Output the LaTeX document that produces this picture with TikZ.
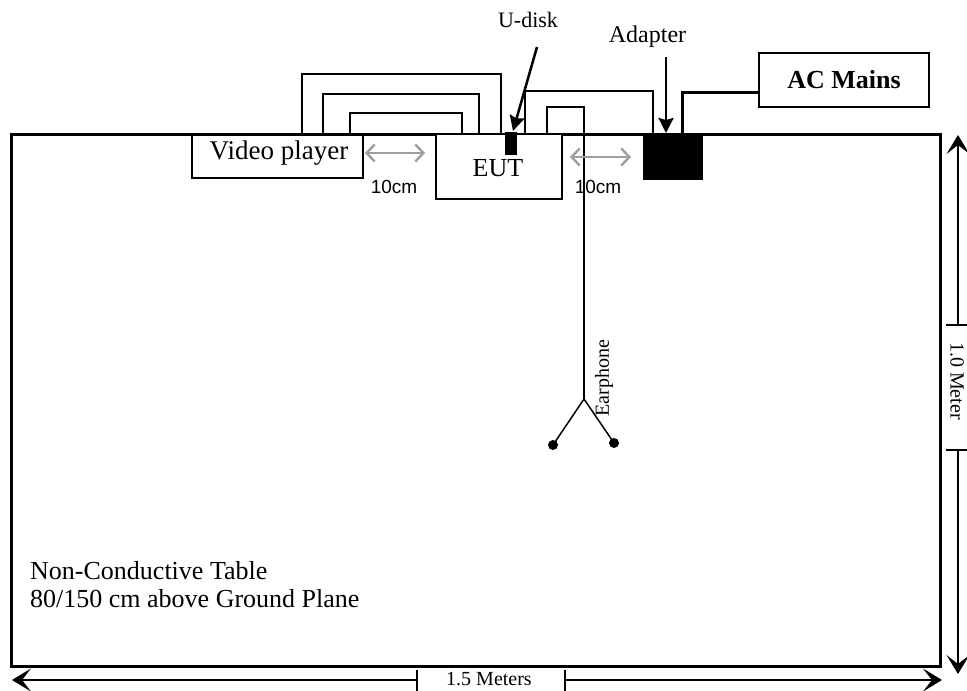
\documentclass[tikz,border=0pt]{standalone}
\usepackage{fontspec}
\setmainfont{Liberation Serif}
\newfontfamily\arialf{Liberation Sans}
\usetikzlibrary{arrows.meta}
\tikzset{
  box/.style={draw, line width=1.5pt, fill=white, inner sep=0pt},
  cable/.style={line width=1.5pt},
  thickcable/.style={line width=3pt},
  ptr/.style={line width=2.5pt, -{Stealth[length=15pt,width=15pt,inset=2pt]}},
  gap/.style={draw=black!38, line width=2.4pt, {Straight Barb[length=8pt,width=17pt]}-{Straight Barb[length=8pt,width=17pt]}},
  dim/.style={line width=1.4pt, -{Stealth[length=19pt,width=23pt,inset=9pt]}},
  tick/.style={line width=1.4pt},
  txt/.style={inner sep=0pt},
}
\begin{document}
\begin{tikzpicture}[x=1pt,y=-1pt]
\useasboundingbox (0,0) rectangle (967,691);
% table
\node[draw, line width=3pt, minimum width=929pt, minimum height=532pt, inner sep=0pt] (table) at (475.5,400) {};
% cables video player - EUT
\draw[cable] (302,134) -- (302,74) -- (501,74) -- (501,134);
\draw[cable] (323,134) -- (323,94) -- (479,94) -- (479,134);
\draw[cable] (350,134) -- (350,113) -- (462,113) -- (462,134);
% boxes
\node[box, minimum width=171pt, minimum height=43pt] (vp) at (277.5,156.5) {};
\node[box, minimum width=126pt, minimum height=65pt] (eut) at (499,166.5) {};
\node[txt, anchor=base, font=\fontsize{27}{30}\selectfont] (vptext) at (279,159) {Video player};
\node[txt, anchor=base, font=\fontsize{26}{30}\selectfont] (euttext) at (498,176) {EUT};
% U-disk
\node[fill=black, minimum width=12pt, minimum height=23pt, inner sep=0pt] (udisk) at (511,143.5) {};
\node[txt, anchor=base, font=\fontsize{22}{24}\selectfont] (udtext) at (528,27) {U-disk};
\coordinate (udtail) at (537,47);
\coordinate (udhead) at (513,131);
\draw[ptr] (udtail) -- (udhead);
% adapter
\node[fill=black, minimum width=60pt, minimum height=46pt, inner sep=0pt] (adapter) at (673,157) {};
\node[txt, anchor=base, font=\fontsize{24}{26}\selectfont] (adtext) at (647.5,42) {Adapter};
\coordinate (adtail) at (666,57);
\coordinate (adhead) at (666,133);
\draw[ptr] (adtail) -- (adhead);
% AC mains
\node[box, minimum width=170pt, minimum height=54pt] (ac) at (844,80) {};
\node[txt, anchor=base, font=\fontsize{26}{28}\selectfont\bfseries] (actext) at (844,88) {AC Mains};
\draw[thickcable] (682,134) -- (682,92) -- (ac.west |- 0,92);
% EUT power cable to adapter
\draw[cable] (525,134) -- (525,91) -- (653,91) -- (653,134);
% earphone cable
\coordinate (split) at (584,399);
\coordinate (el) at (553,445);
\coordinate (er) at (614,443);
\draw[cable] (547,134) -- (547,107) -- (584,107) -- (split);
\draw[cable] (split) -- (el);
\draw[cable] (split) -- (er);
\fill (el) circle (5pt);
\fill (er) circle (5pt);
\node[txt, rotate=90, font=\fontsize{20}{22}\selectfont] (eartext) at (604,378) {Earphone};
% 10cm gaps
\coordinate (g1a) at (365,153);
\coordinate (g1b) at (425,153);
\coordinate (g2a) at (570,157);
\coordinate (g2b) at (631,157);
\draw[gap] (g1a) -- (g1b);
\draw[gap] (g2a) -- (g2b);
\node[txt, anchor=base, font=\arialf\fontsize{19}{21}\selectfont] (cm1) at (394,193) {10cm};
\node[txt, anchor=base, font=\arialf\fontsize{19}{21}\selectfont] (cm2) at (598,193) {10cm};
% table label
\node[txt, anchor=base west, align=left, font=\fontsize{26}{28}\selectfont] (tabtext) at (30,607) {Non-Conductive Table\\80/150 cm above Ground Plane};
% horizontal dimension
\coordinate (hl) at (12,680);
\coordinate (hr) at (942,680);
\coordinate (ht1) at (417,680);
\coordinate (ht2) at (565,680);
\draw[dim] (ht1) -- (hl);
\draw[dim] (ht2) -- (hr);
\draw[tick] (417,670) -- (417,691);
\draw[tick] (565,670) -- (565,691);
\node[txt, anchor=base, font=\fontsize{20}{22}\selectfont] (htext) at (489,685) {1.5 Meters};
% vertical dimension
\coordinate (vt) at (958,135);
\coordinate (vb) at (958,674);
\coordinate (vt1) at (958,325);
\coordinate (vt2) at (958,450);
\draw[dim] (vt1) -- (vt);
\draw[dim] (vt2) -- (vb);
\draw[tick] (946,325) -- (967,325);
\draw[tick] (946,450) -- (967,450);
\node[txt, rotate=-90, font=\fontsize{20}{22}\selectfont] (vtext) at (957,381) {1.0 Meter};
\end{tikzpicture}
\end{document}
